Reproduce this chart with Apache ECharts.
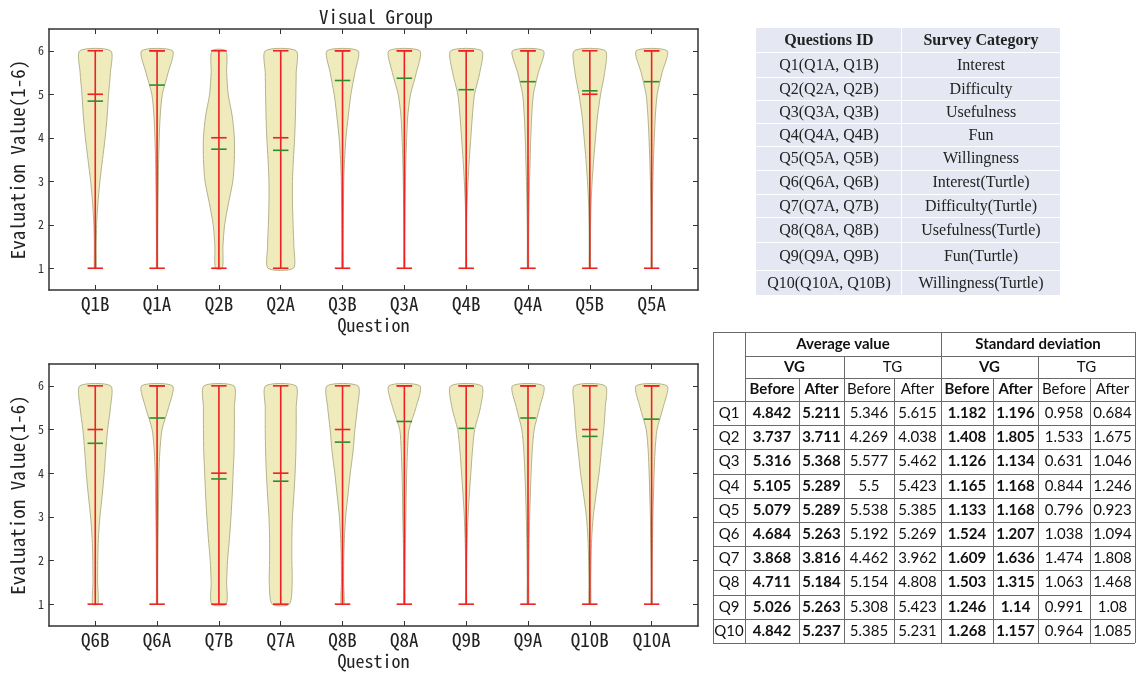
<!DOCTYPE html>
<html>
<head>
<meta charset="utf-8">
<script src="https://cdn.jsdelivr.net/npm/echarts@6/dist/echarts.min.js"></script>
<style>
html,body{margin:0;padding:0;background:#fff;}
#main{width:1140px;height:673px;}
</style>
</head>
<body>
<div id="main"></div>
<script>
// ---------- data ----------
const yLevels = [1, 1.5, 2, 2.5, 3, 3.5, 4, 4.5, 5, 5.5, 6];
const yTicks = [1, 2, 3, 4, 5, 6];

const topCats = ['Q1B','Q1A','Q2B','Q2A','Q3B','Q3A','Q4B','Q4A','Q5B','Q5A'];
const botCats = ['Q6B','Q6A','Q7B','Q7A','Q8B','Q8A','Q9B','Q9A','Q10B','Q10A'];

// relative violin width (1 = widest) at each yLevel
const topDensity = [
  [0.06,0.06,0.09,0.17,0.30,0.47,0.64,0.77,0.86,0.98,1.00],
  [0.04,0.04,0.05,0.06,0.08,0.10,0.14,0.20,0.34,0.72,1.00],
  [0.22,0.26,0.37,0.62,0.90,1.00,1.00,0.86,0.60,0.50,0.45],
  [0.82,0.85,0.80,0.76,0.76,0.82,0.90,0.95,0.98,1.00,1.00],
  [0.04,0.04,0.05,0.06,0.08,0.13,0.22,0.37,0.54,0.80,1.00],
  [0.03,0.03,0.04,0.05,0.07,0.10,0.15,0.22,0.40,0.78,1.00],
  [0.03,0.03,0.03,0.06,0.12,0.20,0.30,0.40,0.54,0.88,1.00],
  [0.04,0.04,0.05,0.07,0.10,0.14,0.18,0.24,0.35,0.67,1.00],
  [0.04,0.04,0.05,0.08,0.15,0.25,0.37,0.50,0.70,0.96,1.00],
  [0.03,0.03,0.04,0.05,0.08,0.12,0.17,0.24,0.36,0.68,1.00]
];
const botDensity = [
  [0.17,0.15,0.16,0.20,0.30,0.45,0.58,0.68,0.80,0.98,1.00],
  [0.04,0.04,0.05,0.06,0.08,0.10,0.12,0.18,0.32,0.74,1.00],
  [0.47,0.50,0.56,0.68,0.78,0.86,0.92,0.98,1.00,1.00,0.97],
  [0.56,0.74,0.72,0.72,0.76,0.85,0.93,0.98,1.00,1.00,0.98],
  [0.10,0.07,0.08,0.12,0.20,0.35,0.50,0.68,0.80,0.96,1.00],
  [0.04,0.04,0.05,0.07,0.10,0.12,0.15,0.20,0.30,0.75,1.00],
  [0.03,0.03,0.04,0.07,0.12,0.20,0.30,0.40,0.55,0.92,1.00],
  [0.05,0.05,0.06,0.08,0.11,0.15,0.20,0.27,0.40,0.75,1.00],
  [0.06,0.06,0.08,0.12,0.22,0.40,0.60,0.75,0.90,1.00,1.00],
  [0.03,0.03,0.04,0.06,0.08,0.12,0.16,0.22,0.35,0.74,1.00]
];
const topMean   = [4.842,5.211,3.737,3.711,5.316,5.368,5.105,5.289,5.079,5.289];
const topMedian = [5,6,4,4,6,6,6,6,5,6];
const topMin    = [1,1,1,1,1,1,1,1,1,1];
const topMax    = [6,6,6,6,6,6,6,6,6,6];
const botMean   = [4.684,5.263,3.868,3.816,4.711,5.184,5.026,5.263,4.842,5.237];
const botMedian = [5,6,4,4,5,6,6,6,5,6];
const botMin    = [1,1,1,1,1,1,1,1,1,1];
const botMax    = [6,6,6,6,6,6,6,6,6,6];

// survey category table
const questionIds = ['Q1(Q1A, Q1B)','Q2(Q2A, Q2B)','Q3(Q3A, Q3B)','Q4(Q4A, Q4B)','Q5(Q5A, Q5B)',
  'Q6(Q6A, Q6B)','Q7(Q7A, Q7B)','Q8(Q8A, Q8B)','Q9(Q9A, Q9B)','Q10(Q10A, Q10B)'];
const surveyCategories = ['Interest','Difficulty','Usefulness','Fun','Willingness',
  'Interest(Turtle)','Difficulty(Turtle)','Usefulness(Turtle)','Fun(Turtle)','Willingness(Turtle)'];

// statistics table
const statRows   = ['Q1','Q2','Q3','Q4','Q5','Q6','Q7','Q8','Q9','Q10'];
const vgAvgBefore = [4.842,3.737,5.316,5.105,5.079,4.684,3.868,4.711,5.026,4.842];
const vgAvgAfter  = [5.211,3.711,5.368,5.289,5.289,5.263,3.816,5.184,5.263,5.237];
const tgAvgBefore = [5.346,4.269,5.577,5.5,5.538,5.192,4.462,5.154,5.308,5.385];
const tgAvgAfter  = [5.615,4.038,5.462,5.423,5.385,5.269,3.962,4.808,5.423,5.231];
const vgSdBefore  = [1.182,1.408,1.126,1.165,1.133,1.524,1.609,1.503,1.246,1.268];
const vgSdAfter   = [1.196,1.805,1.134,1.168,1.168,1.207,1.636,1.315,1.14,1.157];
const tgSdBefore  = [0.958,1.533,0.631,0.844,0.796,1.038,1.474,1.063,0.991,0.964];
const tgSdAfter   = [0.684,1.675,1.046,1.246,0.923,1.094,1.808,1.468,1.08,1.085];

// ---------- styling ----------
const MONO = '"Noto Sans Mono CJK JP","DejaVu Sans Mono",monospace';
const AXIS_COLOR = '#333';
const FILL = '#efebbd';
const EDGE = '#b4b38c';
const RED = '#ee2020';
const GREEN = '#2e8b2e';
const HALF_W = 0.25;   // max half width of violin (axis units)
const CAP = 0.125;     // half width of caps / mean / median lines

const positions = [1,2,3,4,5,6,7,8,9,10];

function violinRender(dens, mean, median, mins, maxs) {
  return function (params, api) {
    const i = params.dataIndex;
    const p = api.value(0);
    const d = dens[i];
    const pts = [];
    for (let k = 0; k < yLevels.length; k++) pts.push(api.coord([p + d[k] * HALF_W, yLevels[k]]));
    for (let k = yLevels.length - 1; k >= 0; k--) pts.push(api.coord([p - d[k] * HALF_W, yLevels[k]]));
    const hl = (v, color) => {
      const a = api.coord([p - CAP, v]), b = api.coord([p + CAP, v]);
      return { type: 'line', shape: { x1: a[0], y1: a[1], x2: b[0], y2: b[1] }, style: { stroke: color, lineWidth: 1.6 } };
    };
    const lo = api.coord([p, mins[i]]), hi = api.coord([p, maxs[i]]);
    return {
      type: 'group',
      children: [
        { type: 'polygon', shape: { points: pts, smooth: 0.25 }, style: { fill: FILL, stroke: EDGE, lineWidth: 1 } },
        { type: 'line', shape: { x1: lo[0], y1: lo[1], x2: hi[0], y2: hi[1] }, style: { stroke: RED, lineWidth: 1.6 } },
        hl(mins[i], RED), hl(maxs[i], RED), hl(median[i], RED), hl(mean[i], GREEN)
      ]
    };
  };
}

function xAxes(gridIndex, cats, withName) {
  return [
    {
      type: 'value', gridIndex, min: 0.25, max: 10.75, position: 'bottom',
      axisLine: { show: true, onZero: false, lineStyle: { color: AXIS_COLOR, width: 1.5 } },
      axisTick: { show: true, inside: true, length: 5, customValues: positions, lineStyle: { color: AXIS_COLOR } },
      axisLabel: { show: true, customValues: positions, margin: 4, fontFamily: MONO, fontSize: 19, color: '#222',
        formatter: v => cats[Math.round(v) - 1] },
      splitLine: { show: false },
      name: withName ? 'Question' : '', nameLocation: 'middle', nameGap: 26,
      nameTextStyle: { fontFamily: MONO, fontSize: 18, color: '#222' }
    },
    {
      type: 'value', gridIndex, min: 0.25, max: 10.75, position: 'top',
      axisLine: { show: true, onZero: false, lineStyle: { color: AXIS_COLOR, width: 1.5 } },
      axisTick: { show: true, inside: true, length: 5, customValues: positions, lineStyle: { color: AXIS_COLOR } },
      axisLabel: { show: false }, splitLine: { show: false }
    }
  ];
}
function yAxes(gridIndex) {
  return [
    {
      type: 'value', gridIndex, min: 0.5, max: 6.5, position: 'left',
      axisLine: { show: true, onZero: false, lineStyle: { color: AXIS_COLOR, width: 1.5 } },
      axisTick: { show: true, inside: true, length: 5, customValues: yTicks, lineStyle: { color: AXIS_COLOR } },
      axisLabel: { show: true, customValues: yTicks, margin: 5, fontFamily: MONO, fontSize: 12, color: '#333' },
      splitLine: { show: false },
      name: 'Evaluation Value(1-6)', nameLocation: 'middle', nameGap: 20, nameRotate: 90,
      nameTextStyle: { fontFamily: MONO, fontSize: 19, color: '#222' }
    },
    {
      type: 'value', gridIndex, min: 0.5, max: 6.5, position: 'right',
      axisLine: { show: true, onZero: false, lineStyle: { color: AXIS_COLOR, width: 1.5 } },
      axisTick: { show: true, inside: true, length: 5, customValues: yTicks, lineStyle: { color: AXIS_COLOR } },
      axisLabel: { show: false }, splitLine: { show: false }
    }
  ];
}

// ---------- tables as graphic elements ----------
const graphics = [];
// survey category table
const t1 = { left: 756, split: 902, right: 1060, rows: [28,53,78,101,124,147,171,195,218,243,271,296] };
const SERIF = '"Liberation Serif","DejaVu Serif",serif';
for (let r = 0; r < t1.rows.length - 1; r++) {
  const y0 = t1.rows[r], y1 = t1.rows[r + 1];
  graphics.push({ type: 'rect', silent: true, shape: { x: t1.left, y: y0, width: t1.split - t1.left - 1, height: y1 - y0 - 1 }, style: { fill: '#e5e8f2' } });
  graphics.push({ type: 'rect', silent: true, shape: { x: t1.split, y: y0, width: t1.right - t1.split, height: y1 - y0 - 1 }, style: { fill: '#e5e8f2' } });
  const header = r === 0;
  const c1 = header ? 'Questions ID' : questionIds[r - 1];
  const c2 = header ? 'Survey Category' : surveyCategories[r - 1];
  const cy = (y0 + y1) / 2;
  [[c1, (t1.left + t1.split) / 2], [c2, (t1.split + t1.right) / 2]].forEach(([txt, cx]) => {
    graphics.push({ type: 'text', silent: true, x: cx, y: cy, style: { text: txt, fontFamily: SERIF, fontSize: 16,
      fontWeight: header ? 'bold' : 'normal', fill: '#222', align: 'center', verticalAlign: 'middle' } });
  });
}

// statistics table
const SANS = 'Lato,"Open Sans","Noto Sans",sans-serif';
const colX = [713,745,799,844,894,941,993,1038,1090,1135];
const headY = [332,356,378,401];
const dataRowH = (643 - 401) / statRows.length;
const rowY = headY.slice();
for (let r = 1; r <= statRows.length; r++) rowY.push(401 + r * dataRowH);
const bottomY = rowY[rowY.length - 1];
const LINE = '#6a6a6a';
function hline(x1, x2, y) { graphics.push({ type: 'line', silent: true, shape: { x1, y1: Math.round(y) + 0.5, x2, y2: Math.round(y) + 0.5 }, style: { stroke: LINE, lineWidth: 1 } }); }
function vline(x, y1, y2) { graphics.push({ type: 'line', silent: true, shape: { x1: x + 0.5, y1, x2: x + 0.5, y2 }, style: { stroke: LINE, lineWidth: 1 } }); }
function cellText(txt, cx, cy, bold) {
  graphics.push({ type: 'text', silent: true, x: cx, y: cy, style: { text: String(txt), fontFamily: SANS, fontSize: 15,
    fontWeight: bold ? 'bold' : 'normal', fill: '#111', align: 'center', verticalAlign: 'middle' } });
}
hline(colX[0], colX[9], headY[0]);
hline(colX[1], colX[9], headY[1]);
hline(colX[1], colX[9], headY[2]);
for (let r = 3; r < rowY.length; r++) hline(colX[0], colX[9], rowY[r]);
vline(colX[0], headY[0], bottomY); vline(colX[1], headY[0], bottomY);
vline(colX[5], headY[0], bottomY); vline(colX[9], headY[0], bottomY);
vline(colX[3], headY[1], bottomY); vline(colX[7], headY[1], bottomY);
[2,4,6,8].forEach(c => vline(colX[c], headY[2], bottomY));
const mid = (a, b) => (a + b) / 2;
cellText('Average value', mid(colX[1], colX[5]), mid(headY[0], headY[1]), true);
cellText('Standard deviation', mid(colX[5], colX[9]), mid(headY[0], headY[1]), true);
[['VG',1,true],['TG',3,false],['VG',5,true],['TG',7,false]].forEach(([t, c, b]) => cellText(t, mid(colX[c], colX[c + 2]), mid(headY[1], headY[2]), b));
for (let c = 1; c < 9; c++) {
  const bold = (c === 1 || c === 2 || c === 5 || c === 6);
  cellText(c % 2 === 1 ? 'Before' : 'After', mid(colX[c], colX[c + 1]), mid(headY[2], headY[3]), bold);
}
const statCols = [vgAvgBefore, vgAvgAfter, tgAvgBefore, tgAvgAfter, vgSdBefore, vgSdAfter, tgSdBefore, tgSdAfter];
for (let r = 0; r < statRows.length; r++) {
  const cy = mid(rowY[3 + r], rowY[4 + r]);
  cellText(statRows[r], mid(colX[0], colX[1]), cy, false);
  statCols.forEach((arr, c) => {
    const bold = (c === 0 || c === 1 || c === 4 || c === 5);
    cellText(arr[r], mid(colX[c + 1], colX[c + 2]), cy, bold);
  });
}

// ---------- chart ----------
const chart = echarts.init(document.getElementById('main'), null, { renderer: 'canvas' });
const option = {
  animation: false,
  backgroundColor: '#fff',
  title: {
    text: 'Visual Group', left: 371, top: 2, textAlign: 'center',
    textStyle: { fontFamily: MONO, fontSize: 19, fontWeight: 'normal', color: '#222' }
  },
  grid: [
    { left: 45, top: 29, width: 653, height: 261 },
    { left: 45, top: 364, width: 653, height: 262 }
  ],
  xAxis: [].concat(xAxes(0, topCats, true), xAxes(1, botCats, true)),
  yAxis: [].concat(yAxes(0), yAxes(1)),
  series: [
    {
      type: 'custom', xAxisIndex: 0, yAxisIndex: 0, silent: true,
      renderItem: violinRender(topDensity, topMean, topMedian, topMin, topMax),
      data: positions.map((p, i) => [p, topMin[i], topMax[i]]),
      encode: { x: 0, y: [1, 2] }
    },
    {
      type: 'custom', xAxisIndex: 2, yAxisIndex: 2, silent: true,
      renderItem: violinRender(botDensity, botMean, botMedian, botMin, botMax),
      data: positions.map((p, i) => [p, botMin[i], botMax[i]]),
      encode: { x: 0, y: [1, 2] }
    }
  ],
  graphic: graphics
};
chart.setOption(option);
</script>
</body>
</html>
